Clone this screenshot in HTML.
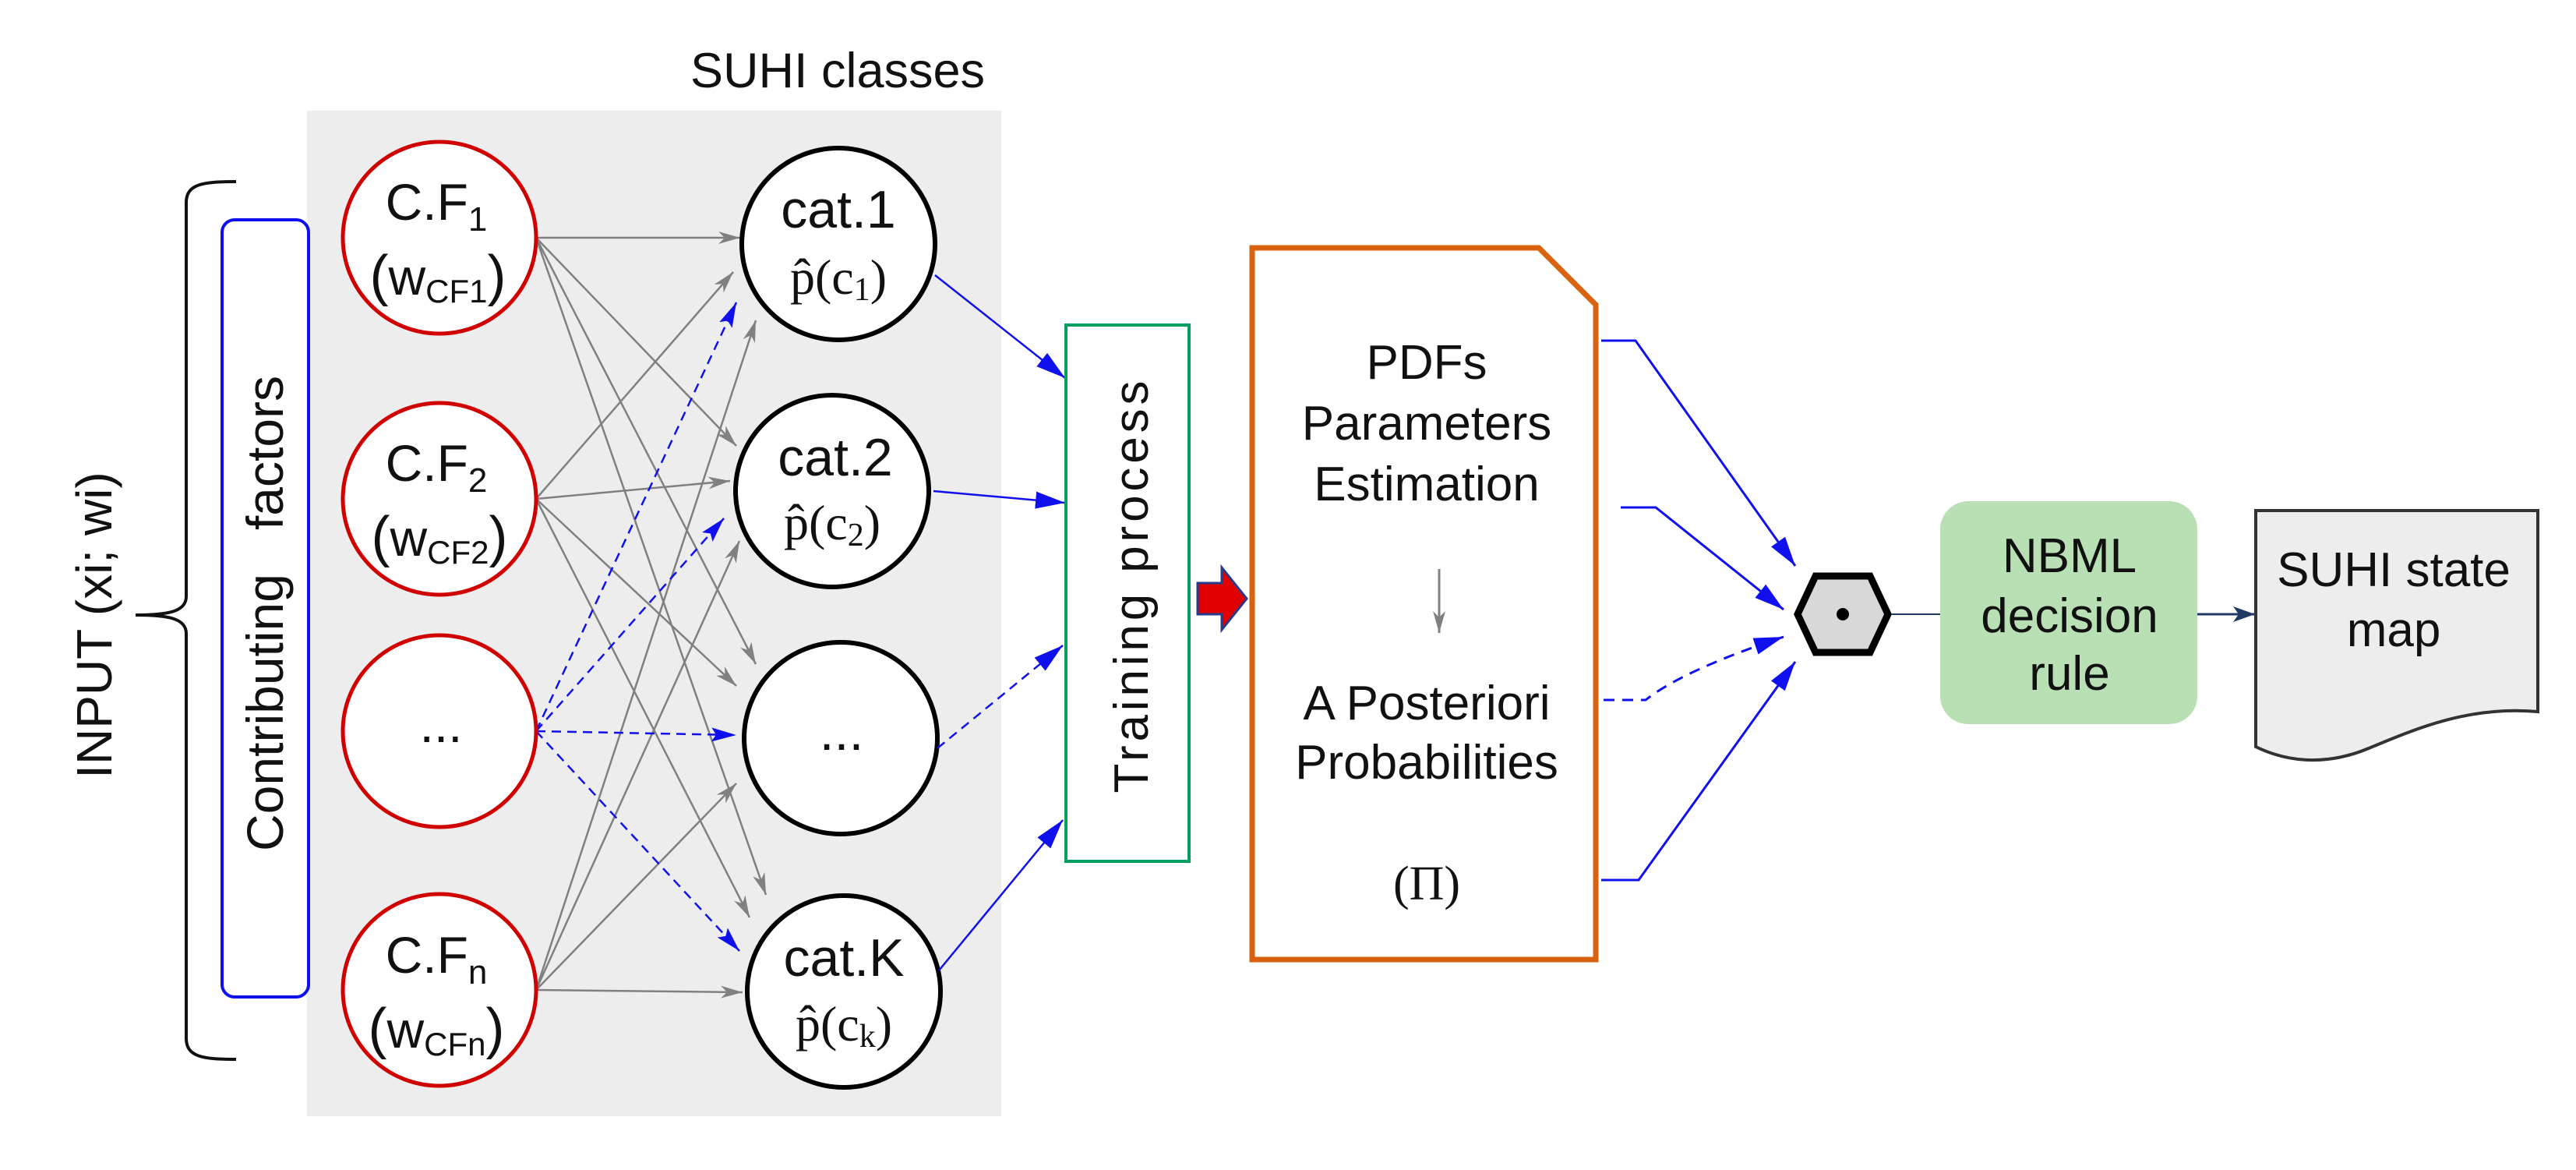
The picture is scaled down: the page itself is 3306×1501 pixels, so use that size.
<!DOCTYPE html>
<html><head><meta charset="utf-8"><style>
html,body{margin:0;padding:0;background:#fff}
svg{display:block}
text{font-family:"Liberation Sans",sans-serif;fill:#111}
.s{font-family:"Liberation Serif",serif}
</style></head><body>
<svg width="3306" height="1501" viewBox="0 0 3306 1501" xmlns="http://www.w3.org/2000/svg">
<defs>
<marker id="g" markerWidth="30" markerHeight="20" refX="28" refY="10" orient="auto" markerUnits="userSpaceOnUse"><path d="M0,2 L28,10 L0,18 L8,10 Z" fill="#808080"/></marker>
<marker id="b" markerWidth="34" markerHeight="22" refX="32" refY="11" orient="auto" markerUnits="userSpaceOnUse"><path d="M0,2 L32,11 L0,20 L6,11 Z" fill="#1010ee"/></marker>
<marker id="bb" markerWidth="40" markerHeight="26" refX="38" refY="13" orient="auto" markerUnits="userSpaceOnUse"><path d="M0,2 L38,13 L0,24 Z" fill="#1010ee"/></marker>
<marker id="n" markerWidth="30" markerHeight="24" refX="28" refY="12" orient="auto" markerUnits="userSpaceOnUse"><path d="M0,2 L28,12 L0,22 L7,12 Z" fill="#1f3864"/></marker>
</defs>
<rect x="394" y="142" width="891" height="1290" fill="#ededed"/>
<text x="1075" y="112" font-size="63" text-anchor="middle">SUHI classes</text>
<path d="M303,233 C260,233 239,236 239,260 L239,765 C239,785 215,789 174,789 C215,789 239,793 239,813 L239,1332 C239,1356 260,1359 303,1359" fill="none" stroke="#111" stroke-width="4"/>
<text transform="translate(143,802) rotate(-90)" font-size="64" text-anchor="middle">INPUT (xi; wi)</text>
<rect x="285" y="282" width="111" height="997" rx="16" fill="#fff" stroke="#1010ee" stroke-width="4"/>
<text transform="translate(363,914) rotate(-90)" font-size="66" text-anchor="middle">Contributing</text>
<text transform="translate(363,581) rotate(-90)" font-size="66" text-anchor="middle">factors</text>
<g stroke="#808080" stroke-width="2.5" fill="none" marker-end="url(#g)">
<line x1="688" y1="305" x2="950" y2="305"/>
<line x1="688" y1="305" x2="945" y2="572"/>
<line x1="688" y1="305" x2="970" y2="852"/>
<line x1="688" y1="305" x2="983" y2="1148"/>
<line x1="688" y1="640" x2="941" y2="349"/>
<line x1="688" y1="640" x2="937" y2="617"/>
<line x1="688" y1="640" x2="945" y2="880"/>
<line x1="688" y1="640" x2="962" y2="1177"/>
<line x1="688" y1="1270" x2="970" y2="411"/>
<line x1="688" y1="1270" x2="949" y2="694"/>
<line x1="688" y1="1270" x2="945" y2="1005"/>
<line x1="688" y1="1270" x2="953" y2="1273"/>
</g>
<g stroke="#1010ee" stroke-width="2.5" fill="none" stroke-dasharray="12,8" marker-end="url(#b)">
<line x1="688" y1="938" x2="945" y2="388"/>
<line x1="688" y1="938" x2="929" y2="665"/>
<line x1="688" y1="938" x2="945" y2="943"/>
<line x1="688" y1="938" x2="949" y2="1220"/>
</g>
<g fill="#fff" stroke="#d00000" stroke-width="5">
<ellipse cx="564" cy="305" rx="124" ry="123"/>
<ellipse cx="564" cy="640" rx="124" ry="123"/>
<ellipse cx="564" cy="938" rx="124" ry="123"/>
<ellipse cx="564" cy="1270" rx="124" ry="123"/>
</g>
<g font-size="66" text-anchor="middle">
<text x="560" y="282">C.F<tspan font-size="44" dy="14">1</tspan></text>
<text x="562" y="378"><tspan font-size="72">(</tspan>w<tspan font-size="42" dy="10">CF1</tspan><tspan font-size="72" dy="-10">)</tspan></text>
<text x="560" y="617">C.F<tspan font-size="44" dy="14">2</tspan></text>
<text x="564" y="713"><tspan font-size="72">(</tspan>w<tspan font-size="42" dy="10">CF2</tspan><tspan font-size="72" dy="-10">)</tspan></text>
<text x="566" y="952">...</text>
<text x="560" y="1248">C.F<tspan font-size="44" dy="14">n</tspan></text>
<text x="560" y="1344"><tspan font-size="72">(</tspan>w<tspan font-size="42" dy="10">CFn</tspan><tspan font-size="72" dy="-10">)</tspan></text>
</g>
<g fill="#fff" stroke="#000" stroke-width="6">
<ellipse cx="1076" cy="313" rx="124" ry="123"/>
<ellipse cx="1068" cy="630" rx="124" ry="123"/>
<ellipse cx="1079" cy="947" rx="124" ry="123"/>
<ellipse cx="1083" cy="1272" rx="124" ry="123"/>
</g>
<g font-size="68" text-anchor="middle">
<text x="1076" y="292">cat.1</text>
<text x="1072" y="610">cat.2</text>
<text x="1080" y="962">...</text>
<text x="1083" y="1252">cat.K</text>
</g>
<g font-size="64" text-anchor="middle">
<text class="s" x="1076" y="377">p̂(c<tspan font-size="42" dy="8">1</tspan><tspan dy="-8">)</tspan></text>
<text class="s" x="1068" y="692">p̂(c<tspan font-size="42" dy="8">2</tspan><tspan dy="-8">)</tspan></text>
<text class="s" x="1083" y="1335">p̂(c<tspan font-size="42" dy="8">k</tspan><tspan dy="-8">)</tspan></text>
</g>
<g stroke="#1010ee" stroke-width="2.5" fill="none" marker-end="url(#bb)">
<line x1="1200" y1="353" x2="1367" y2="485"/>
<line x1="1198" y1="630" x2="1367" y2="645"/>
<line x1="1203" y1="960" x2="1364" y2="828" stroke-dasharray="12,8"/>
<line x1="1205" y1="1245" x2="1364" y2="1052"/>
</g>
<rect x="1368" y="417" width="158" height="688" fill="#fff" stroke="#00a060" stroke-width="4"/>
<text transform="translate(1473,753) rotate(-90)" font-size="62" text-anchor="middle" textLength="529" lengthAdjust="spacing">Training process</text>
<path d="M1537,748 L1568,748 L1568,728 L1600,768 L1568,808 L1568,788 L1537,788 Z" fill="#e00000" stroke="#2a3a8a" stroke-width="3"/>
<path d="M1607,318 L1975,318 L2048,391 L2048,1231 L1607,1231 Z" fill="#fff" stroke="#d9620e" stroke-width="7"/>
<g font-size="62" text-anchor="middle">
<text x="1831" y="486">PDFs</text>
<text x="1831" y="564">Parameters</text>
<text x="1831" y="642">Estimation</text>
<text x="1831" y="923">A Posteriori</text>
<text x="1831" y="999">Probabilities</text>
</g>
<text class="s" x="1831" y="1154" font-size="62" text-anchor="middle">(Π)</text>
<line x1="1847" y1="730" x2="1847" y2="812" stroke="#808080" stroke-width="3" marker-end="url(#g)"/>
<g stroke="#1010ee" stroke-width="3" fill="none" marker-end="url(#bb)">
<polyline points="2055,437 2099,437 2304,726"/>
<polyline points="2080,651 2125,651 2289,782"/>
<path d="M2058,898 L2112,898 Q2160,860 2289,817" stroke-dasharray="14,10"/>
<polyline points="2055,1129 2103,1129 2304,849"/>
</g>
<polygon points="2330,739 2400,739 2423,788 2400,837 2330,837 2307,788" fill="#d8d8d8" stroke="#000" stroke-width="9"/>
<circle cx="2365" cy="788" r="8" fill="#000"/>
<line x1="2427" y1="788" x2="2490" y2="788" stroke="#1f3864" stroke-width="2"/>
<rect x="2490" y="643" width="330" height="286" rx="36" fill="#b9e0b4"/>
<g font-size="62" text-anchor="middle">
<text x="2656" y="734">NBML</text>
<text x="2656" y="811">decision</text>
<text x="2656" y="885">rule</text>
</g>
<line x1="2820" y1="788" x2="2894" y2="788" stroke="#1f3864" stroke-width="3" marker-end="url(#n)"/>
<path d="M2895,655 L3257,655 L3257,913 C3170,905 3100,935 3040,960 C2980,985 2930,975 2895,958 Z" fill="#ededed" stroke="#333" stroke-width="4"/>
<g font-size="62" text-anchor="middle">
<text x="3072" y="752">SUHI state</text>
<text x="3072" y="829">map</text>
</g>
</svg>
</body></html>
